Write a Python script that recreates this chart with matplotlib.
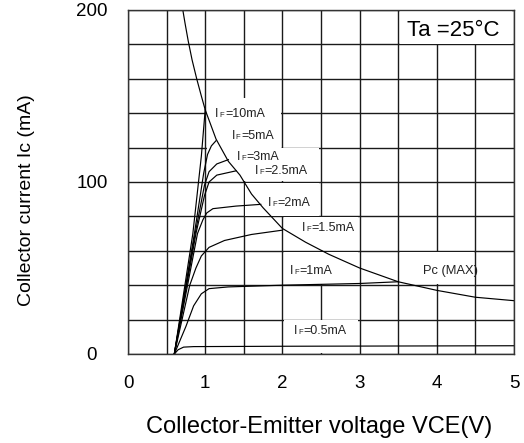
import matplotlib
matplotlib.use("Agg")
import matplotlib.pyplot as plt
import numpy as np
from matplotlib.patches import Rectangle
from matplotlib.offsetbox import TextArea, HPacker, AnnotationBbox

plt.rcParams["font.family"] = ["Liberation Sans", "DejaVu Sans"]

# output curves Ic vs Vce for each forward current (mA)
v_10 = [0.60, 0.72, 0.84, 0.95, 1.00]
i_10 = [0, 35, 70, 115, 142]

v_5 = [0.60, 0.86, 0.98, 1.03, 1.08, 1.14]
i_5 = [0, 70, 105, 116, 121, 124]

v_3 = [0.60, 0.87, 0.99, 1.05, 1.15, 1.30]
i_3 = [0, 70, 98, 106, 110.5, 113]

v_25 = [0.60, 0.88, 0.99, 1.05, 1.15, 1.40]
i_25 = [0, 70, 92, 100, 104, 106.5]

v_2 = [0.60, 0.90, 0.97, 1.02, 1.10, 1.40, 1.72]
i_2 = [0, 70, 78, 82, 84.5, 86, 87]

v_15 = [0.60, 0.80, 0.88, 0.95, 1.05, 1.25, 1.60, 2.00]
i_15 = [0, 40, 50, 57, 62, 66, 69.5, 72]

v_1 = [0.60, 0.75, 0.85, 0.95, 1.05, 1.30, 2.00, 3.00, 3.50]
i_1 = [0, 16, 28, 35, 38, 39, 40, 41, 42]

v_05 = [0.60, 0.65, 0.72, 0.85, 2.00, 5.00]
i_05 = [0, 2.5, 4, 4.3, 4.5, 4.8]

# collector power dissipation limit
v_pc = [0.71, 0.74, 0.78, 0.83, 0.89, 0.95, 1.00, 1.14, 1.30, 1.45, 1.60,
        1.75, 2.00, 2.30, 2.60, 3.00, 3.50, 4.00, 4.50, 5.00]
i_pc = [200, 192, 182, 171, 160, 150, 142, 125, 112, 104, 93,
        85, 73, 65, 58, 50, 42, 37, 33, 31]

curves = [(v_10, i_10), (v_5, i_5), (v_3, i_3), (v_25, i_25), (v_2, i_2),
          (v_15, i_15), (v_1, i_1), (v_05, i_05), (v_pc, i_pc)]

fig = plt.figure(figsize=(5.24, 4.43), dpi=100)
ax = fig.add_axes([128 / 524, 1 - 354 / 443, 386 / 524, 344 / 443])

ax.set_xlim(0, 5)
ax.set_ylim(0, 200)
ax.set_xticks(np.arange(0, 6, 1))
ax.set_xticks(np.arange(0, 5.01, 0.5), minor=True)
ax.set_yticks([0, 100, 200])
ax.set_yticks(np.arange(0, 201, 20), minor=True)
ax.tick_params(which="both", length=0)
ax.tick_params(axis="x", pad=15, labelsize=13.5)
ax.tick_params(axis="y", pad=26, labelsize=13.5)
for lab in ax.get_yticklabels():
    lab.set_horizontalalignment("center")
ax.set_axisbelow(True)
ax.grid(which="both", color="#1a1a1a", linewidth=1.0)
for sp in ax.spines.values():
    sp.set_color("#333333")
    sp.set_linewidth(1.0)

# white cells behind the labels
cells = [(1.02, 100.5, 0.96, 48.5), (1.98, 100.5, 0.50, 19.0),
         (1.52, 80.5, 0.96, 19.0), (2.02, 60.5, 0.96, 19.0),
         (2.02, 40.5, 0.96, 19.0), (2.02, 0.3, 0.96, 19.2),
         (3.52, 40.5, 0.96, 19.0), (3.52, 180.5, 1.46, 19.5)]
for x0, y0, w, h in cells:
    ax.add_patch(Rectangle((x0, y0), w, h, facecolor="white",
                           edgecolor="none", zorder=1))

for v, i in curves:
    ax.plot(v, i, color="black", linewidth=0.85, zorder=2)


def if_label(x, y, text):
    parts = [TextArea("I", textprops=dict(fontsize=9, color="#222222")),
             TextArea("F", textprops=dict(fontsize=5.5, color="#222222")),
             TextArea("=" + text, textprops=dict(fontsize=9, color="#222222"))]
    box = HPacker(children=parts, align="baseline", pad=0, sep=0.6)
    ab = AnnotationBbox(box, (x, y), xycoords="data", box_alignment=(0, 0.5),
                        frameon=False, pad=0)
    ab.set_zorder(3)
    ax.add_artist(ab)


if_label(1.13, 139.5, "10mA")
if_label(1.34, 126.5, "5mA")
if_label(1.41, 114.7, "3mA")
if_label(1.645, 106.4, "2.5mA")
if_label(1.81, 88.0, "2mA")
if_label(2.25, 73.4, "1.5mA")
if_label(2.10, 48.0, "1mA")
if_label(2.15, 13.4, "0.5mA")

ax.text(3.82, 48, "Pc (MAX)", fontsize=9.3, color="#222222",
        va="center", ha="left", zorder=3)
ax.text(3.62, 188, "Ta =25°C", fontsize=16, color="black",
        va="center", ha="left", zorder=3)

fig.text(319.5 / 524, 1 - 427 / 443, "Collector-Emitter voltage VCE(V)",
         fontsize=17, ha="center", va="center")
fig.text(27 / 524, 1 - 200 / 443, "Collector current Ic (mA)",
         fontsize=14, ha="center", va="center", rotation=90)

fig.savefig("out.png", dpi=100)
